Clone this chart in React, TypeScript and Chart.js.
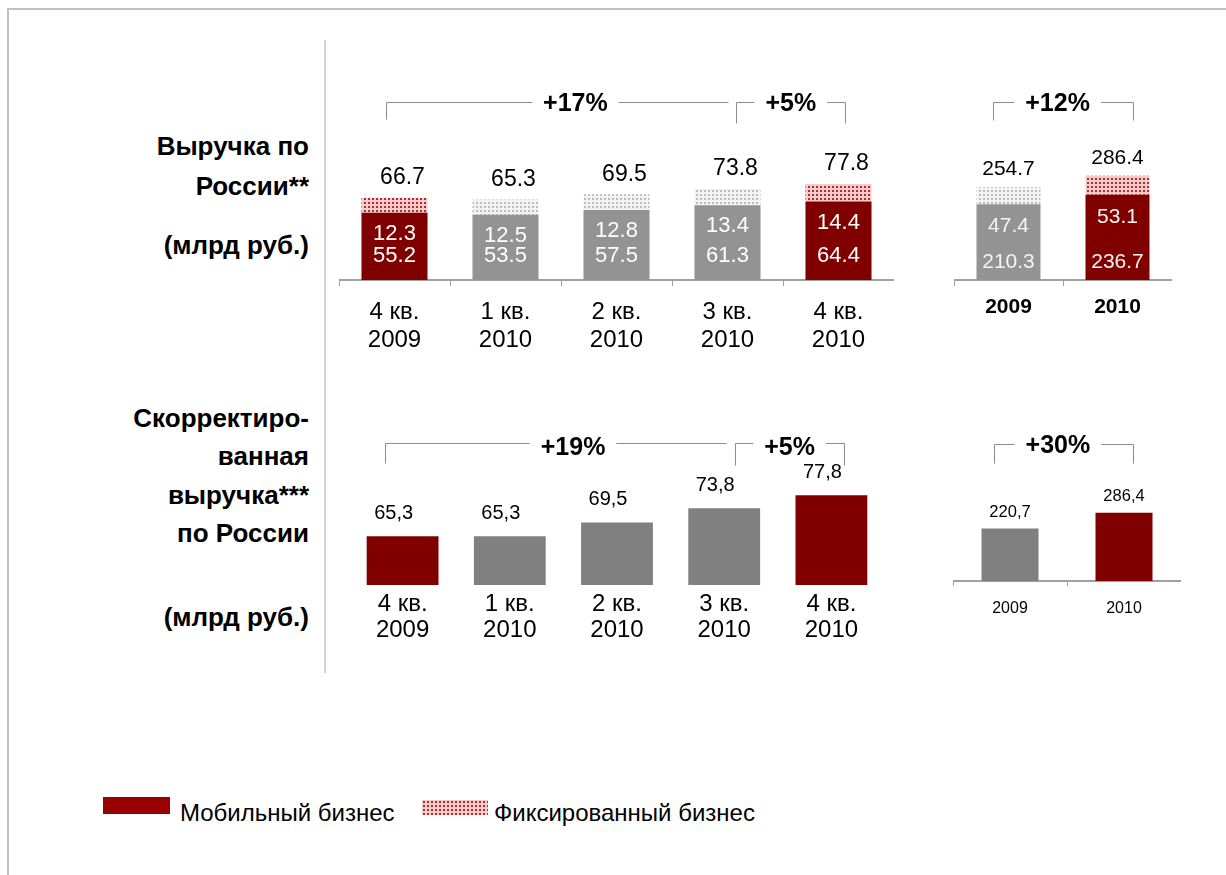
import React, { useEffect, useRef } from 'react';
import { Chart, registerables } from 'chart.js';

Chart.register(...registerables);

const FONT = '"Liberation Sans", Arial, Helvetica, sans-serif';

// ---------- data ----------
const quarterLabels = [
  ['4 кв.', '2009'],
  ['1 кв.', '2010'],
  ['2 кв.', '2010'],
  ['3 кв.', '2010'],
  ['4 кв.', '2010'],
];
const quarterMobile = [55.2, 53.5, 57.5, 61.3, 64.4];
const quarterFixed = [12.3, 12.5, 12.8, 13.4, 14.4];
const quarterTotal = [66.7, 65.3, 69.5, 73.8, 77.8];

const yearLabels = ['2009', '2010'];
const yearMobile = [210.3, 236.7];
const yearFixed = [47.4, 53.1];
const yearTotal = [254.7, 286.4];

const adjQuarter = [65.3, 65.3, 69.5, 73.8, 77.8];
const adjYear = [220.7, 286.4];

const growthTopQuarter = ['+17%', '+5%'];
const growthTopYear = ['+12%'];
const growthBottomQuarter = ['+19%', '+5%'];
const growthBottomYear = ['+30%'];

const titleTop = ['Выручка по', 'России**', '(млрд руб.)'];
const titleBottom = ['Скорректиро-', 'ванная', 'выручка***', 'по России', '(млрд руб.)'];
const legendLabels = ['Мобильный бизнес', 'Фиксированный бизнес'];

// ---------- styles ----------
const RED = '#800000';
const GRAY_TOP = '#939393';
const GRAY_BOTTOM = '#808080';
const AXIS = '#a0a0a0';
const BRACKET = '#8c8c8c';
const PAT_RED_BG = '#f0cccc';
const PAT_RED_FG = '#b52a2a';

const dot = (v: number) => v.toFixed(1);
const comma = (v: number) => v.toFixed(1).replace('.', ',');

function makePattern(bg: string, fg: string) {
  const c = document.createElement('canvas');
  c.width = 4;
  c.height = 4;
  const g = c.getContext('2d')!;
  g.fillStyle = bg;
  g.fillRect(0, 0, 4, 4);
  g.fillStyle = fg;
  g.fillRect(1, 1, 2, 2);
  return g.createPattern(c, 'repeat')!;
}

type Bracket = {
  from: number;
  to: number;
  at: number;
  y: number;
  dropL: number;
  dropR: number;
  textDy: number;
  label: string;
};

function drawBracket(chart: any, b: Bracket) {
  const ctx = chart.ctx as CanvasRenderingContext2D;
  const xs = chart.scales.x;
  const x1 = Math.round(xs.getPixelForValue(b.from)) + 0.5;
  const x2 = Math.round(xs.getPixelForValue(b.to)) + 0.5;
  const xm = xs.getPixelForValue(b.at);
  const y = b.y + 0.5;
  ctx.save();
  ctx.font = `bold 25px ${FONT}`;
  const w = ctx.measureText(b.label).width;
  ctx.strokeStyle = BRACKET;
  ctx.lineWidth = 1;
  ctx.beginPath();
  if (b.dropL > 0) {
    ctx.moveTo(x1, y + b.dropL);
    ctx.lineTo(x1, y);
  } else {
    ctx.moveTo(x1, y);
  }
  ctx.lineTo(xm - w / 2 - 11, y);
  ctx.moveTo(xm + w / 2 + 11, y);
  ctx.lineTo(x2, y);
  if (b.dropR > 0) ctx.lineTo(x2, y + b.dropR);
  ctx.stroke();
  ctx.fillStyle = '#000';
  ctx.textAlign = 'center';
  ctx.textBaseline = 'middle';
  ctx.fillText(b.label, xm, b.y + b.textDy);
  ctx.restore();
}

const fitHeight = (h: number) => (scale: any) => {
  scale.height = h;
};

// ---------- chart configs ----------
function topQuarterConfig(): any {
  const redPat = makePattern(PAT_RED_BG, PAT_RED_FG);
  const grayPat = makePattern('#f3f3f3', '#bcbcbc');
  const hi = (i: number) => i === 0 || i === quarterMobile.length - 1;
  const plugin = {
    id: 'topQuarterText',
    afterDatasetsDraw(chart: any) {
      const ctx = chart.ctx as CanvasRenderingContext2D;
      const mob = chart.getDatasetMeta(0).data;
      const fix = chart.getDatasetMeta(1).data;
      ctx.save();
      ctx.textAlign = 'center';
      ctx.textBaseline = 'middle';
      mob.forEach((bar: any, i: number) => {
        ctx.fillStyle = '#000';
        ctx.font = `23px ${FONT}`;
        ctx.fillText(dot(quarterTotal[i]), bar.x + 8, fix[i].y - 20);
        ctx.fillStyle = '#ffffff';
        ctx.font = `22px ${FONT}`;
        ctx.fillText(dot(quarterFixed[i]), bar.x, bar.y + 21);
        ctx.fillText(dot(quarterMobile[i]), bar.x, bar.base - 24);
      });
      ctx.restore();
      drawBracket(chart, { from: -0.08, to: 3.0, at: 1.63, y: 17, dropL: 17, dropR: 0, textDy: 2, label: growthTopQuarter[0] });
      drawBracket(chart, { from: 3.08, to: 4.06, at: 3.57, y: 17, dropL: 21, dropR: 21, textDy: 2, label: growthTopQuarter[1] });
    },
  };
  return {
    type: 'bar',
    data: {
      labels: quarterLabels,
      datasets: [
        {
          label: legendLabels[0],
          data: quarterMobile,
          backgroundColor: quarterMobile.map((_, i) => (hi(i) ? RED : GRAY_TOP)),
          barPercentage: 0.595,
          categoryPercentage: 1,
        },
        {
          label: legendLabels[1],
          data: quarterFixed,
          backgroundColor: quarterFixed.map((_, i) => (hi(i) ? redPat : grayPat)),
          barPercentage: 0.595,
          categoryPercentage: 1,
        },
      ],
    },
    options: {
      responsive: false,
      animation: false,
      layout: { padding: { top: 45, left: 0, right: 0, bottom: 0 } },
      plugins: { legend: { display: false }, tooltip: { enabled: false } },
      scales: {
        x: {
          stacked: true,
          grid: { display: true, drawOnChartArea: false, drawTicks: true, tickLength: 6, color: AXIS, lineWidth: 1 },
          border: { display: true, color: AXIS, width: 2 },
          ticks: { color: '#000', font: { family: FONT, size: 24, lineHeight: 1.17 }, padding: 12, maxRotation: 0, autoSkip: false },
          afterFit: fitHeight(80),
        },
        y: { stacked: true, display: false, min: 0, max: 123 },
      },
    },
    plugins: [plugin],
  };
}

function topYearConfig(): any {
  const redPat = makePattern(PAT_RED_BG, PAT_RED_FG);
  const grayPat = makePattern('#f3f3f3', '#bcbcbc');
  const hi = (i: number) => i === yearMobile.length - 1;
  const plugin = {
    id: 'topYearText',
    afterDatasetsDraw(chart: any) {
      const ctx = chart.ctx as CanvasRenderingContext2D;
      const mob = chart.getDatasetMeta(0).data;
      const fix = chart.getDatasetMeta(1).data;
      ctx.save();
      ctx.textAlign = 'center';
      ctx.textBaseline = 'middle';
      mob.forEach((bar: any, i: number) => {
        ctx.fillStyle = '#000';
        ctx.font = `21px ${FONT}`;
        ctx.fillText(dot(yearTotal[i]), bar.x, fix[i].y - 18);
        ctx.fillStyle = '#f4f4f4';
        ctx.fillText(dot(yearFixed[i]), bar.x, bar.y + 22);
        ctx.fillText(dot(yearMobile[i]), bar.x, bar.base - 18);
      });
      ctx.restore();
      drawBracket(chart, { from: -0.14, to: 1.14, at: 0.45, y: 17, dropL: 18, dropR: 18, textDy: 2, label: growthTopYear[0] });
    },
  };
  return {
    type: 'bar',
    data: {
      labels: yearLabels,
      datasets: [
        {
          label: legendLabels[0],
          data: yearMobile,
          backgroundColor: yearMobile.map((_, i) => (hi(i) ? RED : GRAY_TOP)),
          barPercentage: 0.587,
          categoryPercentage: 1,
        },
        {
          label: legendLabels[1],
          data: yearFixed,
          backgroundColor: yearFixed.map((_, i) => (hi(i) ? redPat : grayPat)),
          barPercentage: 0.587,
          categoryPercentage: 1,
        },
      ],
    },
    options: {
      responsive: false,
      animation: false,
      layout: { padding: { top: 45, left: 0, right: 0, bottom: 0 } },
      plugins: { legend: { display: false }, tooltip: { enabled: false } },
      scales: {
        x: {
          stacked: true,
          grid: { display: true, drawOnChartArea: false, drawTicks: true, tickLength: 6, color: AXIS, lineWidth: 1 },
          border: { display: true, color: AXIS, width: 2 },
          ticks: { color: '#000', font: { family: FONT, size: 21, weight: 'bold', lineHeight: 1.2 }, padding: 9, maxRotation: 0, autoSkip: false },
          afterFit: fitHeight(80),
        },
        y: { stacked: true, display: false, min: 0, max: 417 },
      },
    },
    plugins: [plugin],
  };
}

function bottomQuarterConfig(): any {
  const hi = (i: number) => i === 0 || i === adjQuarter.length - 1;
  const plugin = {
    id: 'bottomQuarterText',
    afterDatasetsDraw(chart: any) {
      const ctx = chart.ctx as CanvasRenderingContext2D;
      const bars = chart.getDatasetMeta(0).data;
      ctx.save();
      ctx.textAlign = 'center';
      ctx.textBaseline = 'middle';
      ctx.fillStyle = '#000';
      ctx.font = `20px ${FONT}`;
      bars.forEach((bar: any, i: number) => {
        ctx.fillText(comma(adjQuarter[i]), bar.x - 9, bar.y - 23);
      });
      ctx.restore();
      drawBracket(chart, { from: -0.16, to: 3.02, at: 1.59, y: 18, dropL: 20, dropR: 0, textDy: 5, label: growthBottomQuarter[0] });
      drawBracket(chart, { from: 3.1, to: 4.12, at: 3.61, y: 18, dropL: 22, dropR: 22, textDy: 5, label: growthBottomQuarter[1] });
    },
  };
  return {
    type: 'bar',
    data: {
      labels: quarterLabels,
      datasets: [
        {
          data: adjQuarter,
          backgroundColor: adjQuarter.map((_, i) => (hi(i) ? RED : GRAY_BOTTOM)),
          barPercentage: 0.67,
          categoryPercentage: 1,
        },
      ],
    },
    options: {
      responsive: false,
      animation: false,
      layout: { padding: { top: 45, left: 0, right: 0, bottom: 0 } },
      plugins: { legend: { display: false }, tooltip: { enabled: false } },
      scales: {
        x: {
          grid: { display: false, drawTicks: false, tickLength: 0 },
          border: { display: false },
          ticks: { color: '#000', font: { family: FONT, size: 24, lineHeight: 1.1 }, padding: 6, maxRotation: 0, autoSkip: false },
          afterFit: fitHeight(70),
        },
        y: { display: false, min: 50.4, max: 85.5 },
      },
    },
    plugins: [plugin],
  };
}

function bottomYearConfig(): any {
  const hi = (i: number) => i === adjYear.length - 1;
  const plugin = {
    id: 'bottomYearText',
    afterDatasetsDraw(chart: any) {
      const ctx = chart.ctx as CanvasRenderingContext2D;
      const bars = chart.getDatasetMeta(0).data;
      ctx.save();
      ctx.textAlign = 'center';
      ctx.textBaseline = 'middle';
      ctx.fillStyle = '#000';
      ctx.font = `16.5px ${FONT}`;
      bars.forEach((bar: any, i: number) => {
        ctx.fillText(comma(adjYear[i]), bar.x, bar.y - 16);
      });
      ctx.restore();
      drawBracket(chart, { from: -0.14, to: 1.08, at: 0.42, y: 19, dropL: 19, dropR: 19, textDy: 2, label: growthBottomYear[0] });
    },
  };
  return {
    type: 'bar',
    data: {
      labels: yearLabels,
      datasets: [
        {
          data: adjYear,
          backgroundColor: adjYear.map((_, i) => (hi(i) ? RED : GRAY_BOTTOM)),
          barPercentage: 0.5,
          categoryPercentage: 1,
        },
      ],
    },
    options: {
      responsive: false,
      animation: false,
      layout: { padding: { top: 45, left: 0, right: 0, bottom: 0 } },
      plugins: { legend: { display: false }, tooltip: { enabled: false } },
      scales: {
        x: {
          grid: { display: true, drawOnChartArea: false, drawTicks: true, tickLength: 5, color: AXIS, lineWidth: 1 },
          border: { display: true, color: AXIS, width: 2 },
          ticks: { color: '#000', font: { family: FONT, size: 16, lineHeight: 1.2 }, padding: 13, maxRotation: 0, autoSkip: false },
          afterFit: fitHeight(50),
        },
        y: { display: false, min: 0, max: 466 },
      },
    },
    plugins: [plugin],
  };
}

// ---------- components ----------
function ChartBox(props: { left: number; top: number; width: number; height: number; build: () => any }) {
  const ref = useRef<HTMLCanvasElement>(null);
  useEffect(() => {
    const chart = new Chart(ref.current as HTMLCanvasElement, props.build());
    return () => chart.destroy();
  }, []);
  return (
    <canvas
      ref={ref}
      width={props.width}
      height={props.height}
      style={{ position: 'absolute', left: props.left, top: props.top, width: props.width, height: props.height }}
    />
  );
}

function Title(props: { text: string; y: number }) {
  return (
    <div
      style={{
        position: 'absolute',
        left: 0,
        width: 309,
        top: props.y - 16,
        height: 32,
        lineHeight: '32px',
        textAlign: 'right',
        fontFamily: FONT,
        fontWeight: 'bold',
        fontSize: 26,
        color: '#000',
        whiteSpace: 'nowrap',
      }}
    >
      {props.text}
    </div>
  );
}

const titleTopY = [146, 186, 245];
const titleBottomY = [418, 456, 495, 533, 617];

const legendText: React.CSSProperties = {
  position: 'absolute',
  top: 798,
  lineHeight: '30px',
  fontFamily: FONT,
  fontSize: 24,
  color: '#000',
  whiteSpace: 'nowrap',
};

export default function App() {
  return (
    <div style={{ position: 'absolute', left: 0, top: 0, width: 1226, height: 875, background: '#fff', overflow: 'hidden' }}>
      <div style={{ position: 'absolute', left: 7, top: 8, width: 1240, height: 900, borderTop: '2px solid #c0c0c0', borderLeft: '2px solid #c0c0c0' }} />
      <div style={{ position: 'absolute', left: 324, top: 40, width: 2, height: 633, background: '#d4d4d4' }} />

      {titleTop.map((t, i) => (
        <Title key={'t' + i} text={t} y={titleTopY[i]} />
      ))}
      {titleBottom.map((t, i) => (
        <Title key={'b' + i} text={t} y={titleBottomY[i]} />
      ))}

      <ChartBox left={339} top={85} width={555} height={275} build={topQuarterConfig} />
      <ChartBox left={954} top={85} width={218} height={275} build={topYearConfig} />
      <ChartBox left={349} top={425} width={536} height={230} build={bottomQuarterConfig} />
      <ChartBox left={953} top={425} width={228} height={206} build={bottomYearConfig} />

      <div style={{ position: 'absolute', left: 103, top: 797, width: 67, height: 17, background: '#990000' }} />
      <div style={{ ...legendText, left: 180 }}>{legendLabels[0]}</div>
      <div
        style={{
          position: 'absolute',
          left: 422,
          top: 800,
          width: 66,
          height: 15,
          backgroundColor: PAT_RED_BG,
          backgroundImage: `radial-gradient(circle, ${PAT_RED_FG} 0.9px, transparent 1.3px)`,
          backgroundSize: '4px 4px',
        }}
      />
      <div style={{ ...legendText, left: 494 }}>{legendLabels[1]}</div>
    </div>
  );
}
